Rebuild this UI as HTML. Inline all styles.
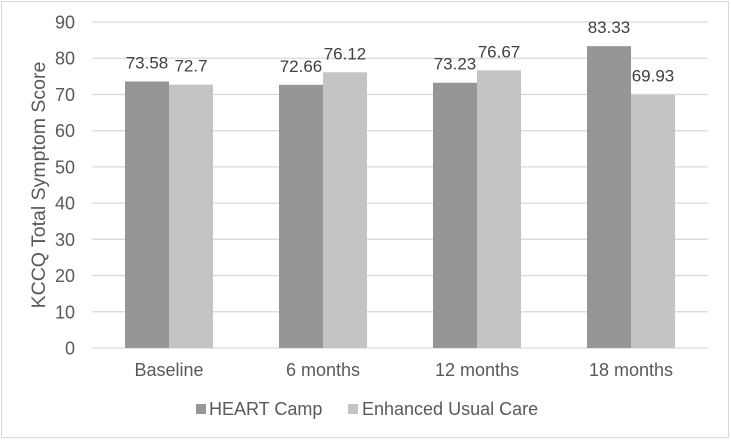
<!DOCTYPE html>
<html><head><meta charset="utf-8"><style>
body{margin:0;background:#fff}
svg{display:block;font-family:"Liberation Sans",Arial,sans-serif}
</style></head><body>
<svg id="chart" width="731" height="441">
<rect x="1.5" y="1.5" width="727" height="436" fill="#fff" stroke="#d9d9d9"/>
<g id="grid"></g><g id="bars"></g><g id="labels"></g>
<text transform="translate(45,185) rotate(-90)" text-anchor="middle" font-size="19.5" fill="#595959">KCCQ Total Symptom Score</text>
<g>
<rect x="196" y="404" width="10" height="10" fill="#969696"/>
<text x="209" y="415" font-size="18" fill="#595959">HEART Camp</text>
<rect x="348" y="404" width="10" height="10" fill="#c4c4c4"/>
<text x="362" y="415" font-size="18" fill="#595959">Enhanced Usual Care</text>
</g>
</svg>
<script>
const categories=["Baseline","6 months","12 months","18 months"];
const heartCamp=[73.58,72.66,73.23,83.33];
const usualCare=[72.7,76.12,76.67,69.93];
const heartLabels=["73.58","72.66","73.23","83.33"];
const usualLabels=["72.7","76.12","76.67","69.93"];
const yTicks=[0,10,20,30,40,50,60,70,80,90];
const L=92,R=708,T=22,B=348,YMAX=90;
const NS="http://www.w3.org/2000/svg";
const y=v=>B-(v/YMAX)*(B-T);
const bw=(R-L)/categories.length;
const x=i=>L+bw*i+bw/2;
function mk(tag,attrs,parent,txt){const e=document.createElementNS(NS,tag);for(const k in attrs)e.setAttribute(k,attrs[k]);if(txt!==undefined)e.textContent=txt;parent.appendChild(e);return e;}
const grid=document.getElementById('grid'),bars=document.getElementById('bars'),labels=document.getElementById('labels');
yTicks.forEach(t=>{
 const l=mk('line',{x1:L,x2:R,y1:y(t),y2:y(t),stroke:'#d9d9d9','stroke-width':1.3},grid);
 
 
 const tx=mk('text',{x:L-17,y:y(t)+6.5,'text-anchor':'end','font-size':18,fill:'#595959'},grid,String(t));
 
 
});
const W=44;
categories.forEach((c,i)=>{
 const cx=x(i);
 const b1=mk('rect',{x:cx-W,y:y(heartCamp[i]),width:W,height:B-y(heartCamp[i]),fill:'#969696'},bars);
 
 
 const b2=mk('rect',{x:cx,y:y(usualCare[i]),width:W,height:B-y(usualCare[i]),fill:'#c4c4c4'},bars);
 
 
 const t1=mk('text',{x:cx-W/2,y:y(heartCamp[i])-13,'text-anchor':'middle','font-size':17,fill:'#404040'},labels,heartLabels[i]);
 
 
 const t2=mk('text',{x:cx+W/2,y:y(usualCare[i])-13,'text-anchor':'middle','font-size':17,fill:'#404040'},labels,usualLabels[i]);
 
 
 const xl=mk('text',{x:cx,y:376,'text-anchor':'middle','font-size':18,fill:'#595959'},labels,c);
 
 
});
</script>
</body></html>
